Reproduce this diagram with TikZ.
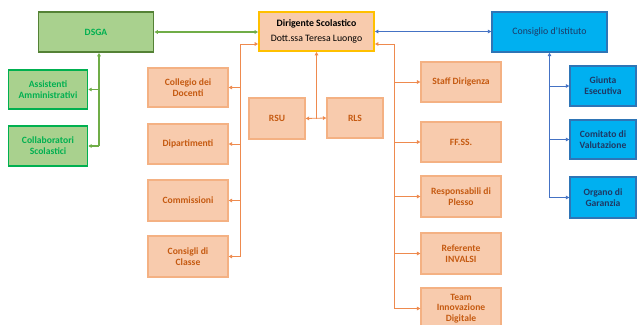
\documentclass[tikz,border=0pt]{standalone}
\usepackage{fontspec}
\setmainfont{Carlito}
\usetikzlibrary{arrows.meta}
\definecolor{gfill}{HTML}{A9D18E}
\definecolor{gdark}{HTML}{548235}
\definecolor{gbright}{HTML}{00B050}
\definecolor{gline}{HTML}{70AD47}
\definecolor{ofill}{HTML}{F8CBAD}
\definecolor{oborder}{HTML}{F4B183}
\definecolor{otext}{HTML}{C55A11}
\definecolor{oline}{HTML}{EE8A4E}
\definecolor{gold}{HTML}{FFC000}
\definecolor{bfill}{HTML}{00B0F0}
\definecolor{bborder}{HTML}{2E75B6}
\definecolor{btext}{HTML}{1F3864}
\definecolor{bline}{HTML}{4472C4}
\tikzset{
  basebox/.style={draw, align=center, inner sep=1pt, minimum height=40pt,
    font=\fontsize{9.6}{11}\selectfont\bfseries},
  gbox/.style={basebox, fill=gfill, draw=gbright, line width=1.6pt, text=gbright, minimum width=79pt},
  dsgabox/.style={basebox, fill=gfill, draw=gdark, line width=1.8pt, text=gbright, minimum width=115pt},
  obox/.style={basebox, fill=ofill, draw=oborder, line width=1.3pt, text=otext, minimum width=80pt},
  smallobox/.style={obox, minimum width=56pt},
  dirbox/.style={basebox, fill=ofill, draw=gold, line width=1.8pt, text=black, minimum width=115pt,
    minimum height=39pt, font=\fontsize{9.8}{15}\selectfont},
  bbox/.style={basebox, fill=bfill, draw=bborder, line width=1.5pt, text=btext, minimum width=66pt},
  consbox/.style={bbox, minimum width=115pt, font=\fontsize{9.8}{11}\selectfont},
  tip/.style={-{Triangle[length=3.4pt,width=3.6pt]}},
  btip/.style={{Triangle[length=3.4pt,width=3.6pt]}-{Triangle[length=3.4pt,width=3.6pt]}},
  ocon/.style={draw=oline, line width=0.8pt},
  gcon/.style={draw=gline, line width=1.1pt},
  bcon/.style={draw=bline, line width=1pt}
}
\begin{document}
\begin{tikzpicture}[x=1pt,y=-1pt]
\useasboundingbox (0,0) rectangle (637,324);
% top row
\node[dsgabox] (dsga) at (96,32) {DSGA};
\node[dirbox] (dir) at (316.5,31.5) {\textbf{Dirigente Scolastico}\\Dott.ssa Teresa Luongo};
\node[consbox] (cons) at (549.5,32) {\mdseries Consiglio d'Istituto};
% green
\node[gbox, minimum height=39pt] (ass) at (48,89.5) {Assistenti\\Amministrativi};
\node[gbox] (coll) at (48,146) {Collaboratori\\Scolastici};
% orange left
\node[obox, minimum height=39pt] (colleg) at (188,87.5) {Collegio dei\\Docenti};
\node[obox] (dip) at (188,144) {Dipartimenti};
\node[obox, minimum height=41pt] (comm) at (188,200.5) {Commissioni};
\node[obox, minimum height=41pt] (consc) at (188,256.5) {Consigli di\\Classe};
% center
\node[smallobox, minimum height=41pt] (rsu) at (277,118.5) {RSU};
\node[smallobox] (rls) at (355,118) {RLS};
% orange right
\node[obox] (staff) at (461,82) {Staff Dirigenza};
\node[obox] (ff) at (461,142) {FF.SS.};
\node[obox, minimum height=41pt] (resp) at (461,196.5) {Responsabili di\\Plesso};
\node[obox, minimum height=41pt] (ref) at (461,253.5) {Referente\\INVALSI};
\node[obox, minimum height=41pt, font=\fontsize{9.6}{10.5}\selectfont\bfseries] (team) at (461,308.5) {Team\\Innovazione\\Digitale};
% blue
\node[bbox] (giunta) at (603,86) {Giunta\\Esecutiva};
\node[bbox, minimum height=39pt] (comit) at (603,139.5) {Comitato di\\Valutazione};
\node[bbox, minimum height=41pt] (org) at (603,197.5) {Organo di\\Garanzia};

% top connectors
\draw[gcon, btip] (dsga.east) -- (dsga.east -| dir.west);
\draw[bcon, btip] (dir.east) -- (dir.east -| cons.west);

% green tree
\coordinate (gx) at ([xshift=3pt]dsga.south);
\draw[gcon, tip] (coll.east -| gx) -- (gx);
\draw[gcon, tip] (ass.east -| gx) -- (ass.east);
\draw[gcon, tip] (coll.east -| gx) -- (coll.east);

% orange left tree
\coordinate (lx) at (240,44);
\draw[ocon, tip] (consc.east -| lx) -- (lx) -- ([yshift=-12.5pt]dir.west);
\foreach \n in {colleg,dip,comm,consc}
  \draw[ocon, tip] (\n.east -| lx) -- (\n.east);

% orange right tree
\coordinate (rx) at (394,44);
\draw[ocon, tip] (team.west -| rx) -- (rx) -- ([yshift=-12.5pt]dir.east);
\foreach \n in {staff,ff,resp,ref,team}
  \draw[ocon, tip] (\n.west -| rx) -- (\n.west);

% center RSU / RLS
\coordinate (mid) at (dir.south |- rsu.east);
\draw[ocon, tip] (mid) -- (dir.south);
\draw[ocon, btip] (rsu.east) -- (rls.west);

% blue tree
\draw[bcon, tip] (org.west -| cons.south) -- (cons.south);
\foreach \n in {giunta,comit,org}
  \draw[bcon, tip] (\n.west -| cons.south) -- (\n.west);
\end{tikzpicture}
\end{document}
